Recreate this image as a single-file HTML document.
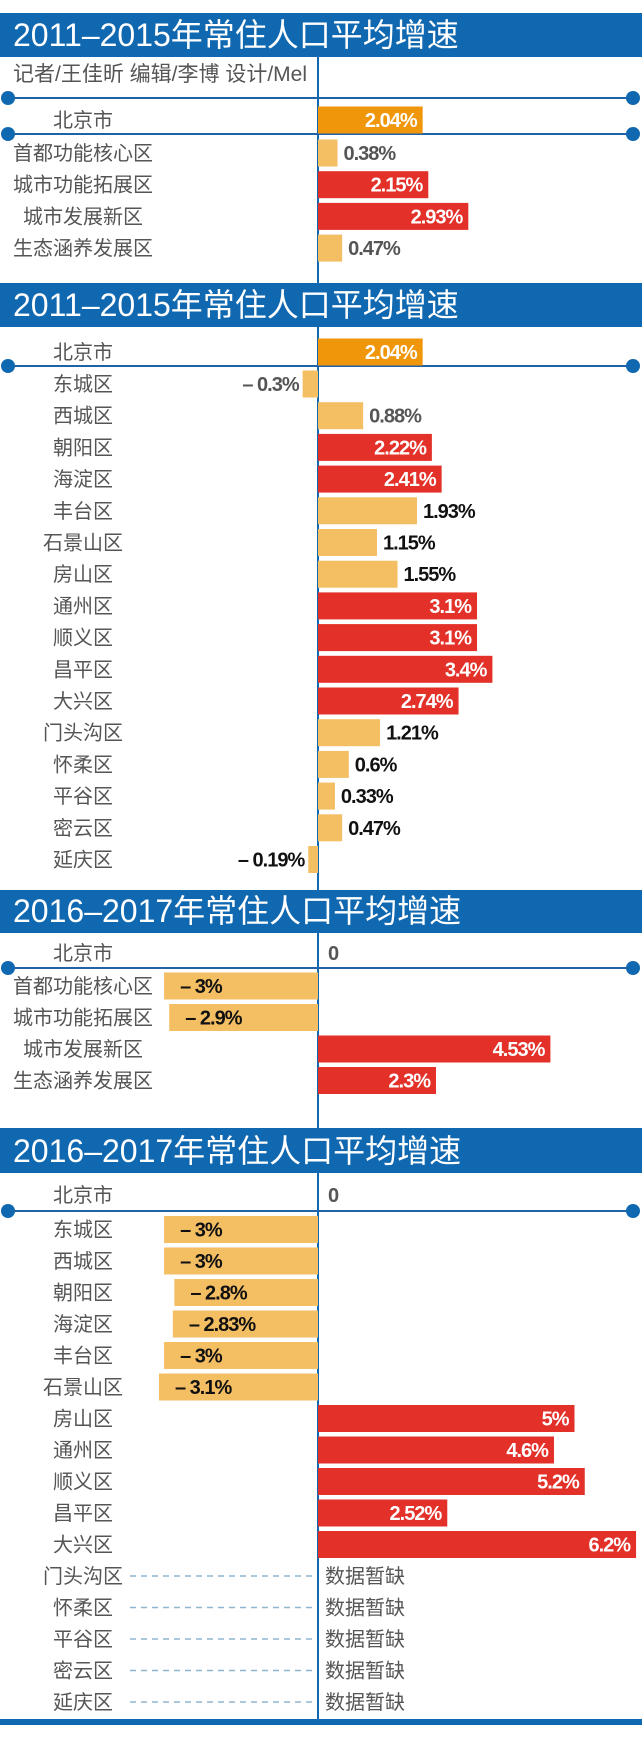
<!DOCTYPE html>
<html><head><meta charset="utf-8">
<style>
html,body{margin:0;padding:0;background:#fff;width:642px;height:1759px;overflow:hidden}
svg{display:block}
.hd{font-family:"Liberation Sans","Noto Sans CJK SC",sans-serif;font-size:32px;fill:#fff}
.nm{font-family:"Liberation Sans","Noto Sans CJK SC",sans-serif;font-size:20px;fill:#555}
.vl{font-family:"Liberation Sans Narrow","Liberation Sans",sans-serif;font-size:20px;font-weight:bold;letter-spacing:-1px}
</style></head>
<body>
<svg id="chart" width="642" height="1759" viewBox="0 0 642 1759"></svg>
<script>
// ---- data ----
const s1Names = ["北京市","首都功能核心区","城市功能拓展区","城市发展新区","生态涵养发展区"];
const s1Values = [2.04,0.38,2.15,2.93,0.47];
const s1Colors = ["o","l","r","r","l"];
const s2Names = ["北京市","东城区","西城区","朝阳区","海淀区","丰台区","石景山区","房山区","通州区","顺义区","昌平区","大兴区","门头沟区","怀柔区","平谷区","密云区","延庆区"];
const s2Values = [2.04,-0.3,0.88,2.22,2.41,1.93,1.15,1.55,3.1,3.1,3.4,2.74,1.21,0.6,0.33,0.47,-0.19];
const s2Colors = ["o","l","l","r","r","l","l","l","r","r","r","r","l","l","l","l","l"];
const s2Labels = ["2.04%","– 0.3%","0.88%","2.22%","2.41%","1.93%","1.15%","1.55%","3.1%","3.1%","3.4%","2.74%","1.21%","0.6%","0.33%","0.47%","– 0.19%"];
const s3Names = ["北京市","首都功能核心区","城市功能拓展区","城市发展新区","生态涵养发展区"];
const s3Values = [0,-3,-2.9,4.53,2.3];
const s3Colors = ["o","l","l","r","r"];
const s3Labels = ["0","– 3%","– 2.9%","4.53%","2.3%"];
const s4Names = ["北京市","东城区","西城区","朝阳区","海淀区","丰台区","石景山区","房山区","通州区","顺义区","昌平区","大兴区","门头沟区","怀柔区","平谷区","密云区","延庆区"];
const s4Values = [0,-3,-3,-2.8,-2.83,-3,-3.1,5,4.6,5.2,2.52,6.2,null,null,null,null,null];
const s4Colors = ["o","l","l","l","l","l","l","r","r","r","r","r","l","l","l","l","l"];
const s4Labels = ["0","– 3%","– 3%","– 2.8%","– 2.83%","– 3%","– 3.1%","5%","4.6%","5.2%","2.52%","6.2%","数据暂缺","数据暂缺","数据暂缺","数据暂缺","数据暂缺"];
const s1Labels = ["2.04%","0.38%","2.15%","2.93%","0.47%"];

// ---- layout ----
const svg = document.getElementById('chart');
const NS = 'http://www.w3.org/2000/svg';
const AX = 318, PX = 51.3;
const xs = v => AX + v * PX;
const COL = {o:"#f0960a", l:"#f4be63", r:"#e3312a"};
const BLUE = "#1068b0";
function mk(tag, attrs, parent){const e=document.createElementNS(NS,tag);for(const k in attrs)e.setAttribute(k,attrs[k]);(parent||svg).appendChild(e);return e;}

// axis line
const ax = mk('line',{x1:AX,y1:57,x2:AX,y2:1722,stroke:BLUE,'stroke-width':2});



function header(y0,y1,text,id){
  const r = mk('rect',{x:0,y:y0,width:642,height:y1-y0,fill:BLUE});
  
  
  const t = mk('text',{x:13,y:y1-11,class:'hd'});
  t.textContent = text;
  
  
}
function sepLine(y,id){
  const l = mk('line',{x1:8,y1:y,x2:633,y2:y,stroke:"#1f63a6",'stroke-width':2});
  
  
  [8,633].forEach(cx=>{
    const c = mk('circle',{cx:cx,cy:y,r:7,fill:BLUE});
    
    
  });
}
function rows(names,values,colors,labels,centers,id,grayLbl){
  names.forEach((n,i)=>{
    const cy = centers[i];
    const t = mk('text',{x:83,y:cy+7,'text-anchor':'middle',class:'nm'});
    t.textContent = n;
    
    
    const v = values[i];
    if(v===null){
      const d = mk('line',{x1:130,y1:cy,x2:312,y2:cy,stroke:"#8fb6d0",'stroke-width':1.5,'stroke-dasharray':'6 5'});
      
      
      const m = mk('text',{x:325,y:cy+7,class:'nm'});
      m.textContent = labels[i];
      
      
      return;
    }
    const x0 = Math.min(xs(0),xs(v)), w = Math.abs(xs(v)-xs(0));
    if(w>0){
      const b = mk('rect',{x:x0,y:cy-13.5,width:w,height:27,fill:COL[colors[i]]});
      
      
    }
    let tx, anchor, fill;
    if(v>0 && colors[i]!=='l'){tx=xs(v)-6;anchor='end';fill='#fff';}
    else if(v>0){tx=xs(v)+6;anchor='start';fill=(grayLbl&&grayLbl[i])?'#555':'#111';}
    else if(v===0){tx=AX+10;anchor='start';fill='#555';}
    else if(w>60){tx=xs(v)+16;anchor='start';fill='#111';}
    else {tx=xs(v)-4;anchor='end';fill=(grayLbl&&grayLbl[i])?'#555':'#111';}
    const lt = mk('text',{x:tx,y:cy+7,'text-anchor':anchor,class:'vl',fill:fill});
    lt.textContent = labels[i];
    
    
  });
}
const seq = (start,step,n)=>Array.from({length:n},(_,i)=>start+i*step);

// section 1
header(13,57,"2011–2015年常住人口平均增速","section1");
const sub = mk('text',{x:13,y:81,class:'nm',style:'font-size:21px'});
sub.textContent = "记者/王佳昕  编辑/李博  设计/Mel";


sepLine(98,'section1-top');
sepLine(134,'section1');
rows(s1Names,s1Values,s1Colors,s1Labels,[120].concat(seq(153,31.7,4)),'section1',[0,1,0,0,1]);

// section 2
header(283,327,"2011–2015年常住人口平均增速","section2");
sepLine(366,'section2');
rows(s2Names,s2Values,s2Colors,s2Labels,[352].concat(seq(384,31.7,16)),'section2',[0,1,1,0,0,0,0,0,0,0,0,0,0,0,0,0,0]);

// section 3
header(890,933,"2016–2017年常住人口平均增速","section3");
sepLine(968,'section3');
rows(s3Names,s3Values,s3Colors,s3Labels,[953].concat(seq(986,31.5,4)),'section3');

// section 4
header(1128,1173,"2016–2017年常住人口平均增速","section4");
sepLine(1211,'section4');
rows(s4Names,s4Values,s4Colors,s4Labels,[1195].concat(seq(1229.5,31.5,16)),'section4');

const bl = mk('rect',{x:0,y:1719,width:642,height:6,fill:BLUE});


</script>
</body></html>
